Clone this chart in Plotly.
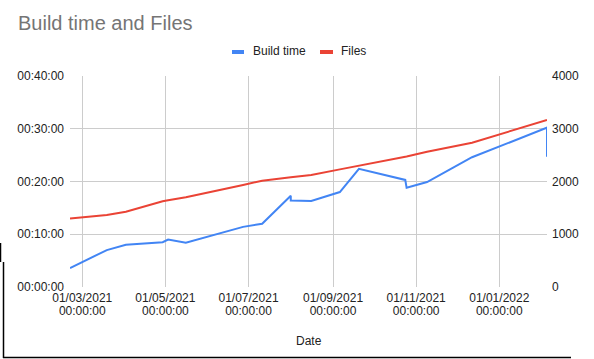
import plotly.graph_objects as go

# ---- data ----
dates = ["2021-02-20", "2021-03-19", "2021-04-02", "2021-04-17", "2021-04-29",
         "2021-05-03", "2021-05-16", "2021-06-27", "2021-07-11", "2021-08-01",
         "2021-08-01", "2021-08-16", "2021-09-06", "2021-09-20", "2021-10-24",
         "2021-10-25", "2021-11-09", "2021-12-12", "2022-02-05", "2022-02-05"]
build_minutes = [3.6, 7.0, 8.0, 8.3, 8.5, 9.0, 8.4, 11.4, 12.0, 17.3,
                 16.4, 16.3, 18.0, 22.4, 20.3, 18.8, 19.9, 24.6, 30.2, 24.7]
files = [1300, 1365, 1425, 1540, 1625, 1645, 1700, 1935, 2015, 2080,
         2080, 2123, 2230, 2300, 2470, 2475, 2565, 2736, 3166, 3166]

x_tick_dates = ["2021-03-01", "2021-05-01", "2021-07-01", "2021-09-01", "2021-11-01", "2022-01-01"]
x_tick_date_text = ["01/03/2021", "01/05/2021", "01/07/2021", "01/09/2021", "01/11/2021", "01/01/2022"]
x_tick_time_text = ["00:00:00"] * 6
y1_ticks = [0, 10, 20, 30, 40]
y1_text = ["00:00:00", "00:10:00", "00:20:00", "00:30:00", "00:40:00"]
y2_ticks = [0, 1000, 2000, 3000, 4000]

BLUE = "#4285F4"
RED = "#EA4335"
FONT = "Arial, Liberation Sans, sans-serif"

W, H = 594, 359
L, R, T, B = 70, 47, 76, 72
PW, PH = W - L - R, H - T - B


def px(xp):
    return (xp - L) / PW


def py(yp):
    return (H - B - yp) / PH


fig = go.Figure()
fig.add_trace(go.Scatter(x=dates, y=build_minutes, mode="lines", name="Build time",
                         line=dict(color=BLUE, width=2), xaxis="x", yaxis="y"))
fig.add_trace(go.Scatter(x=dates, y=files, mode="lines", name="Files",
                         line=dict(color=RED, width=2), xaxis="x", yaxis="y2"))
# invisible helper so the second x axis (time line of the tick labels) is drawn
fig.add_trace(go.Scatter(x=[dates[0]], y=[build_minutes[0]], mode="markers", opacity=0,
                         hoverinfo="skip", showlegend=False, xaxis="x2", yaxis="y"))

tickfont = dict(family=FONT, size=12, color="#222222")
fig.update_layout(
    width=W, height=H,
    margin=dict(l=L, r=R, t=T, b=B, pad=0),
    paper_bgcolor="white", plot_bgcolor="white",
    showlegend=False,
    font=dict(family=FONT, size=12, color="#222222"),
    title=dict(text="Build time and Files", font=dict(family=FONT, size=20, color="#757575"),
               xref="container", yref="container", x=18 / W, xanchor="left",
               y=1 - 23 / H, yanchor="middle"),
    xaxis=dict(type="date", range=[dates[0], dates[-1]], tickvals=x_tick_dates,
               ticktext=x_tick_date_text, showgrid=True, gridcolor="#cccccc", gridwidth=1,
               zeroline=False, showline=False, ticks="", tickfont=tickfont,
               ticklabelstandoff=2),
    xaxis2=dict(type="date", range=[dates[0], dates[-1]], tickvals=x_tick_dates,
                ticktext=x_tick_time_text, overlaying="x", side="bottom", showgrid=False,
                zeroline=False, showline=False, ticks="", tickfont=tickfont,
                ticklabelstandoff=15),
    yaxis=dict(range=[0, 40], tickvals=y1_ticks, ticktext=y1_text, showgrid=True,
               gridcolor="#cccccc", zeroline=False, showline=False, ticks="",
               tickfont=tickfont, ticklabelstandoff=5),
    yaxis2=dict(range=[0, 4000], tickvals=y2_ticks, overlaying="y", side="right",
                showgrid=False, zeroline=False, showline=False, ticks="",
                tickfont=tickfont, ticklabelstandoff=4),
)

# legend drawn manually
shapes = [
    dict(type="rect", xref="paper", yref="paper", x0=px(232), x1=px(244), y0=py(54), y1=py(50),
         fillcolor=BLUE, line=dict(width=0)),
    dict(type="rect", xref="paper", yref="paper", x0=px(320), x1=px(333), y0=py(54), y1=py(50),
         fillcolor=RED, line=dict(width=0)),
    # frame artifacts
    dict(type="line", xref="paper", yref="paper", x0=px(3.5), x1=px(3.5), y0=py(262), y1=py(358),
         line=dict(color="black", width=1.5)),
    dict(type="line", xref="paper", yref="paper", x0=px(0.5), x1=px(0.5), y0=py(243), y1=py(262),
         line=dict(color="black", width=1.5)),
    dict(type="line", xref="paper", yref="paper", x0=px(3), x1=px(571), y0=py(357.5), y1=py(357.5),
         line=dict(color="black", width=1.5)),
]
fig.update_layout(shapes=shapes)

fig.add_annotation(text="Build time", xref="paper", yref="paper", x=px(251), y=py(51),
                   xanchor="left", yanchor="middle", showarrow=False,
                   font=dict(family=FONT, size=12, color="#222222"))
fig.add_annotation(text="Files", xref="paper", yref="paper", x=px(339), y=py(51),
                   xanchor="left", yanchor="middle", showarrow=False,
                   font=dict(family=FONT, size=12, color="#222222"))
fig.add_annotation(text="Date", xref="paper", yref="paper", x=0.5, y=py(341),
                   xanchor="center", yanchor="middle", showarrow=False,
                   font=dict(family=FONT, size=12, color="#222222"))

fig.write_html("out.html")
